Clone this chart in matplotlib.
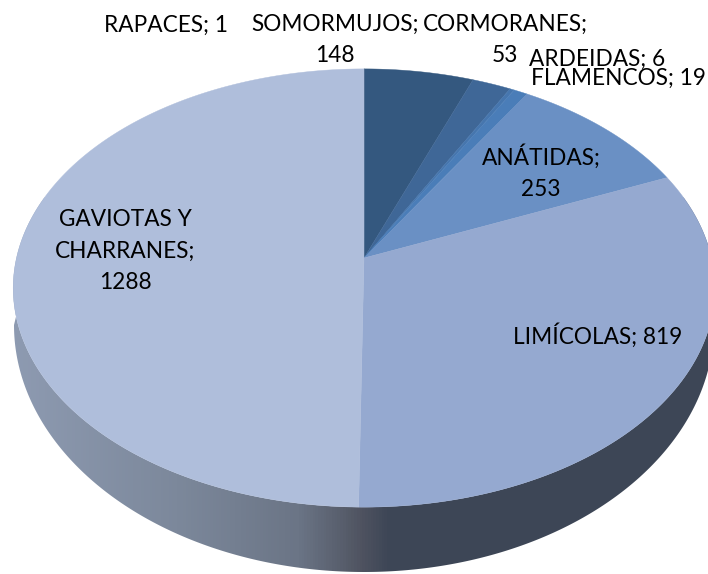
import matplotlib
matplotlib.use("Agg")
import matplotlib.pyplot as plt
import numpy as np
from matplotlib.colors import LinearSegmentedColormap
from matplotlib.patches import Polygon

plt.rcParams['font.family'] = ['Lato', 'DejaVu Sans']

# slices, clockwise from 12 o'clock
names = ["RAPACES", "SOMORMUJOS", "CORMORANES", "ARDEIDAS", "FLAMENCOS",
         "ANÁTIDAS", "LIMÍCOLAS", "GAVIOTAS Y CHARRANES"]
values = [1, 148, 53, 6, 19, 253, 819, 1288]
colors = ["#2f4c70", "#34587f", "#3f6797", "#4676ae", "#4a7db8",
          "#6a90c4", "#95a9d0", "#afbedb"]

# label text with its line breaks, and where it sits (px)
labels = ["RAPACES; 1", "SOMORMUJOS;\n148", "CORMORANES;\n53", "ARDEIDAS; 6", "FLAMENCOS; 19",
          "ANÁTIDAS;\n253", "LIMÍCOLAS; 819", "GAVIOTAS Y\nCHARRANES;\n1288"]
label_x = [166, 335, 505, 597, 618, 541, 598, 125]
label_y = [25, 40, 40, 59, 78, 172, 336, 251]

# look of the tilted disc, in px
APEX_X, APEX_Y = 364, 258
SCALE_X, SCALE_Y = 347.5, 215
TILT = 0.137
SIDE_CX, SIDE_CY, SIDE_RX, SIDE_RY = 364, 325, 350, 247


def disc(theta):
    w = 1 + TILT * np.cos(theta)
    return APEX_X + SCALE_X * np.sin(theta) / w, APEX_Y - SCALE_Y * np.cos(theta) / w


fig = plt.figure(figsize=(7.08, 5.74), dpi=100)
ax = fig.add_axes([0, 0, 1, 1])
ax.set_xlim(0, 708)
ax.set_ylim(574, 0)
ax.axis("off")

# side wall: the front arc of the top face and then the lower rim back again
front = np.linspace(np.pi / 2 - 0.3, 3 * np.pi / 2 + 0.3, 300)
tx, ty = disc(front)
rim = np.linspace(3 * np.pi / 2, np.pi / 2, 300)
rx = SIDE_CX + SIDE_RX * np.sin(rim)
ry = SIDE_CY - SIDE_RY * np.cos(rim)
wall = Polygon(np.column_stack([np.r_[tx, rx], np.r_[ty, ry]]), closed=True,
               facecolor="none", edgecolor="none")
ax.add_patch(wall)
shade = LinearSegmentedColormap.from_list(
    "side", [(0, "#8f9cb3"), (0.25, "#7c889b"), (0.42, "#6b7586"), (0.49, "#565c6a"),
             (0.51, "#4f5360"), (0.55, "#3d4656"), (1, "#3d4656")])
im = ax.imshow(np.linspace(0, 1, 708)[None, :], cmap=shade, aspect="auto",
               extent=[0, 708, 574, 0], zorder=1)
im.set_clip_path(wall)
ax.set_xlim(0, 708)
ax.set_ylim(574, 0)

# top face
edges = np.cumsum([0] + values) / sum(values) * 2 * np.pi
for a0, a1, c in zip(edges[:-1], edges[1:], colors):
    t = np.linspace(a0, a1, max(3, int((a1 - a0) * 120)))
    x, y = disc(t)
    ax.fill(np.r_[APEX_X, x], np.r_[APEX_Y, y], color=c, lw=0.3, zorder=2)

for text, x, y in zip(labels, label_x, label_y):
    ax.text(x, y, text, ha="center", va="center", fontsize=16.3, color="black",
            linespacing=1.6, zorder=3)

fig.savefig("out.png", dpi=100)
